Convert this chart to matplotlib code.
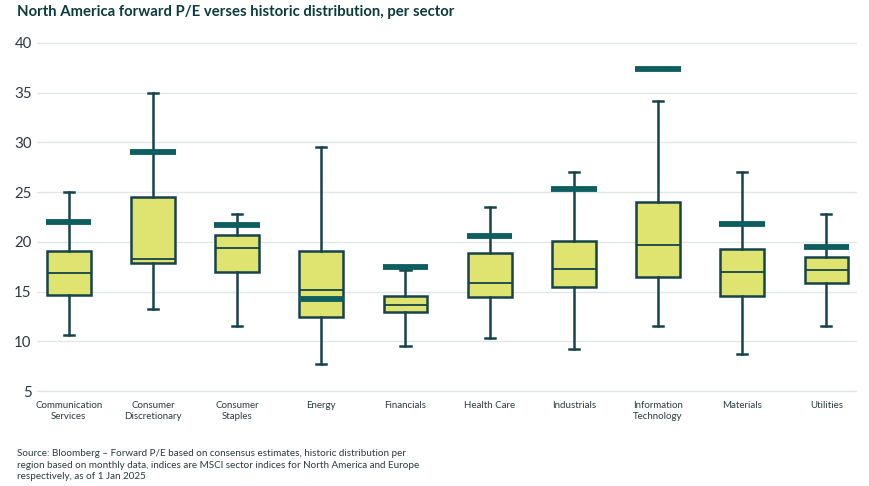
import numpy as np
import matplotlib
matplotlib.use("Agg")
import matplotlib.pyplot as plt

# sector P/E stats
sectors = ["Communication\nServices", "Consumer\nDiscretionary", "Consumer\nStaples",
           "Energy", "Financials", "Health Care", "Industrials",
           "Information\nTechnology", "Materials", "Utilities"]
whisker_low = [10.6, 13.2, 11.5, 7.7, 9.55, 10.35, 9.2, 11.55, 8.75, 11.55]
q1 = [14.65, 17.85, 16.95, 12.4, 12.9, 14.5, 15.5, 16.5, 14.6, 15.9]
median = [16.9, 18.25, 19.4, 15.15, 13.6, 15.85, 17.3, 19.65, 16.95, 17.2]
q3 = [19.05, 24.55, 20.65, 19.1, 14.6, 18.85, 20.1, 24.0, 19.25, 18.5]
whisker_high = [25.0, 35.0, 22.85, 29.55, 17.2, 23.55, 27.0, 34.2, 27.0, 22.85]
current_pe = [22.0, 29.0, 21.7, 14.3, 17.45, 20.55, 25.3, 37.4, 21.8, 19.45]

fill_col = "#DFE370"
edge_col = "#17434A"
marker_col = "#0E5E5F"
text_col = "#0B3B3C"
tick_col = "#2B3A3E"

plt.rcParams['font.family'] = ['Lato', 'DejaVu Sans']

fig = plt.figure(figsize=(8.69, 4.86), dpi=100)
ax = fig.add_axes([37.3 / 869, 1 - 393 / 486, (856.7 - 37.3) / 869, (393 - 41) / 486])

stats = []
for i in range(len(sectors)):
    stats.append({"whislo": whisker_low[i], "q1": q1[i], "med": median[i],
                  "q3": q3[i], "whishi": whisker_high[i], "label": sectors[i]})

x = np.arange(len(sectors))
ax.bxp(stats, positions=x, widths=0.52, patch_artist=True, showfliers=False,
       boxprops=dict(facecolor=fill_col, edgecolor=edge_col, linewidth=1.8),
       medianprops=dict(color=edge_col, linewidth=1.3),
       whiskerprops=dict(color=edge_col, linewidth=1.8),
       capprops=dict(color=edge_col, linewidth=1.8),
       capwidths=0.12, zorder=3)

# current forward P/E markers
ax.hlines(current_pe, x - 0.27, x + 0.27, color=marker_col, linewidth=4.2, zorder=4)

ax.set_xlim(-0.373, 9.36)
ax.set_ylim(4.8, 40.2)
ax.set_yticks([5, 10, 15, 20, 25, 30, 35, 40])
ax.grid(axis="y", color="#E3E6E6", linewidth=1.0, zorder=0)
ax.set_axisbelow(True)
for s in ax.spines.values():
    s.set_visible(False)
ax.tick_params(axis="y", length=0, pad=4, labelsize=10.8, labelcolor=tick_col)
ax.tick_params(axis="x", length=0, pad=6, labelsize=7, labelcolor=tick_col)
ax.set_xticks(x)
ax.set_xticklabels(sectors, linespacing=1.25)

fig.text(17 / 869, 1 - 12 / 486, "North America forward P/E verses historic distribution, per sector",
         fontsize=10.7, fontweight="bold", color=text_col, ha="left", va="center")

fig.text(17 / 869, 1 - 465 / 486,
         "Source: Bloomberg \u2013 Forward P/E based on consensus estimates, historic distribution per\n"
         "region based on monthly data, indices are MSCI sector indices for North America and Europe\n"
         "respectively, as of 1 Jan 2025",
         fontsize=7.15, color=tick_col, ha="left", va="center", linespacing=1.4)

fig.savefig("out.png", dpi=100)
